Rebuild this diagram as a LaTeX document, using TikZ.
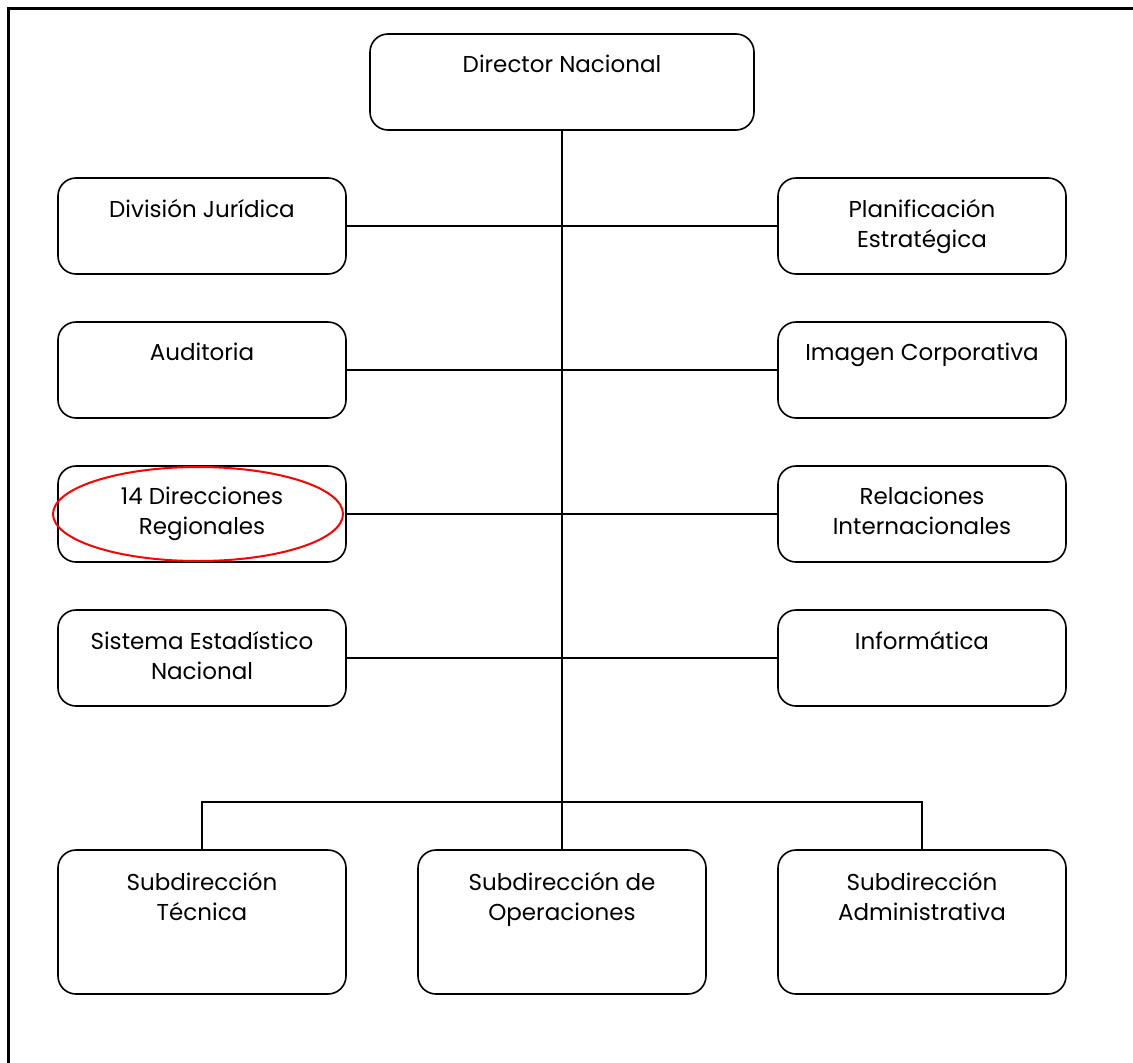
\documentclass[tikz,border=0pt]{standalone}
\usepackage{fontspec}
\setmainfont{Poppins}
\begin{document}
\begin{tikzpicture}[x=1pt,y=-1pt,
  box/.style={draw,line width=1.6pt,rounded corners=18pt,minimum width=288pt,inner sep=0pt},
  lbl/.style={align=center,font=\fontsize{23}{30}\selectfont,anchor=north,inner sep=0pt},
  conn/.style={line width=1.3pt}]
\useasboundingbox (0,0) rectangle (1133,1063);
\clip (0,0) rectangle (1133,1063);
\draw[line width=3pt] (8.5,8.5) rectangle (1150,1080);
% boxes
\node[box,minimum height=96pt,minimum width=384pt] (dir) at (562,82) {};
\node[lbl] at (562,55) {Director Nacional};
\foreach \nm/\y/\t in {dj/226/{División Jurídica},au/370/{Auditoria},dr/514/{14 Direcciones\\Regionales},se/658/{Sistema Estadístico\\Nacional}}{
  \node[box,minimum height=96pt] (\nm) at (202,\y) {};
  \node[lbl] at (202,\y-27) {\t};
}
\foreach \nm/\y/\t in {pe/226/{Planificación\\Estratégica},ic/370/{Imagen Corporativa},ri/514/{Relaciones\\Internacionales},inf/658/{Informática}}{
  \node[box,minimum height=96pt] (\nm) at (922,\y) {};
  \node[lbl] at (922,\y-27) {\t};
}
\foreach \nm/\x/\t in {st/202/{Subdirección\\Técnica},so/562/{Subdirección de\\Operaciones},sa/922/{Subdirección\\Administrativa}}{
  \node[box,minimum height=144pt] (\nm) at (\x,922) {};
  \node[lbl] at (\x,872) {\t};
}
% connectors
\draw[conn] (dir.south) -- (so.north);
\draw[conn] (dj.east) -- (pe.west);
\draw[conn] (au.east) -- (ic.west);
\draw[conn] (dr.east) -- (ri.west);
\draw[conn] (se.east) -- (inf.west);
\coordinate (bus) at (562,802);
\draw[conn] (st.north) |- (bus) -| (sa.north);
% red ellipse
\draw[red,line width=2pt] (198,514) ellipse [x radius=145pt,y radius=47pt];
\end{tikzpicture}
\end{document}
